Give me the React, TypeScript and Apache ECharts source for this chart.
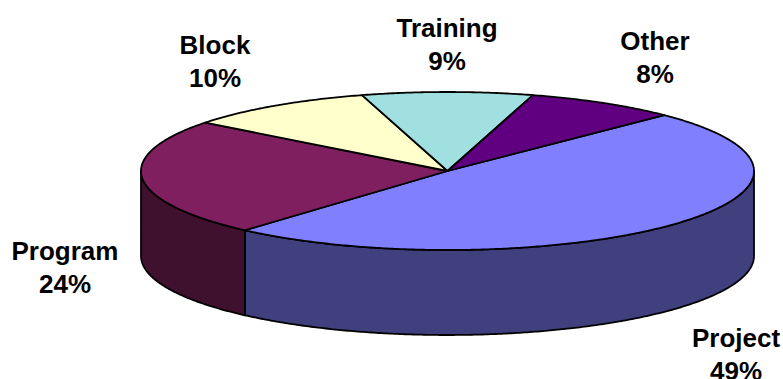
import React, { useEffect, useRef } from "react";
import * as echarts from "echarts";

// Slices run clockwise, starting at the upper right of the disc.
const sliceNames = ["Project", "Program", "Block", "Training", "Other"];
const sliceValues = [49, 24, 10, 9, 8];
const topColors = ["#8080FF", "#7F1F5F", "#FFFFCC", "#A0E0E0", "#600080"];
const wallColors = ["#40407F", "#40102F", "#80806A", "#507070", "#300040"];

// Disc geometry in pixels.
const CX = 447.5;
const CY = 171;
const RX = 306.5;
const RY = 79;
const DEPTH = 85;
const START_DEG = 45;

// Centre of each two-line label, in pixels.
const labelCentres: Record<string, [number, number]> = {
  Project: [736, 354],
  Program: [65, 267],
  Block: [215, 61],
  Training: [447, 44],
  Other: [655, 57],
};

const toPoint = (deg: number, dy = 0): [number, number] => {
  const a = (deg * Math.PI) / 180;
  return [CX + RX * Math.sin(a), CY - RY * Math.cos(a) + dy];
};

const arc = (from: number, to: number, dy = 0): [number, number][] => {
  const steps = Math.max(2, Math.ceil(Math.abs(to - from) / 0.5));
  const pts: [number, number][] = [];
  for (let i = 0; i <= steps; i++) pts.push(toPoint(from + ((to - from) * i) / steps, dy));
  return pts;
};

const total = sliceValues.reduce((s, v) => s + v, 0);

export default function App() {
  const ref = useRef<HTMLDivElement>(null);

  useEffect(() => {
    const chart = echarts.init(ref.current!, undefined, { renderer: "svg" });
    chart.setOption({
      animation: false,
      backgroundColor: "#FFFFFF",
      series: [
        {
          type: "custom",
          coordinateSystem: "none",
          silent: true,
          data: sliceNames.map((name, i) => ({ name, value: sliceValues[i] })),
          renderItem: (params: any, api: any) => {
            const i = params.dataIndex;
            const value = api.value(0);
            const before = sliceValues.slice(0, i).reduce((s, v) => s + v, 0);
            const from = START_DEG + (before / total) * 360;
            const to = from + (value / total) * 360;
            const line = { stroke: "#000000", lineWidth: 1.8, lineJoin: "round" };
            const children: any[] = [];

            // The wall only shows along the front half of the disc.
            const wallFrom = Math.max(from, 90);
            const wallTo = Math.min(to, 270);
            if (wallTo > wallFrom) {
              children.push({
                type: "polygon",
                z2: 1,
                shape: { points: [...arc(wallFrom, wallTo), ...arc(wallTo, wallFrom, DEPTH)] },
                style: { fill: wallColors[i], ...line },
              });
            }
            children.push({
              type: "polygon",
              z2: 2,
              shape: { points: [[CX, CY], ...arc(from, to)] },
              style: { fill: topColors[i], ...line },
            });

            const [lx, ly] = labelCentres[sliceNames[i]];
            children.push({
              type: "text",
              z2: 3,
              style: {
                text: `${sliceNames[i]}\n${value}%`,
                x: lx,
                y: ly,
                align: "center",
                verticalAlign: "middle",
                lineHeight: 33,
                fontFamily: "Liberation Sans",
                fontWeight: "bold",
                fontSize: 26,
                fill: "#000000",
              },
            });
            return { type: "group", children };
          },
        },
      ],
    });
    return () => chart.dispose();
  }, []);

  return <div ref={ref} style={{ position: "fixed", left: 0, top: 0, width: 783, height: 379 }} />;
}
